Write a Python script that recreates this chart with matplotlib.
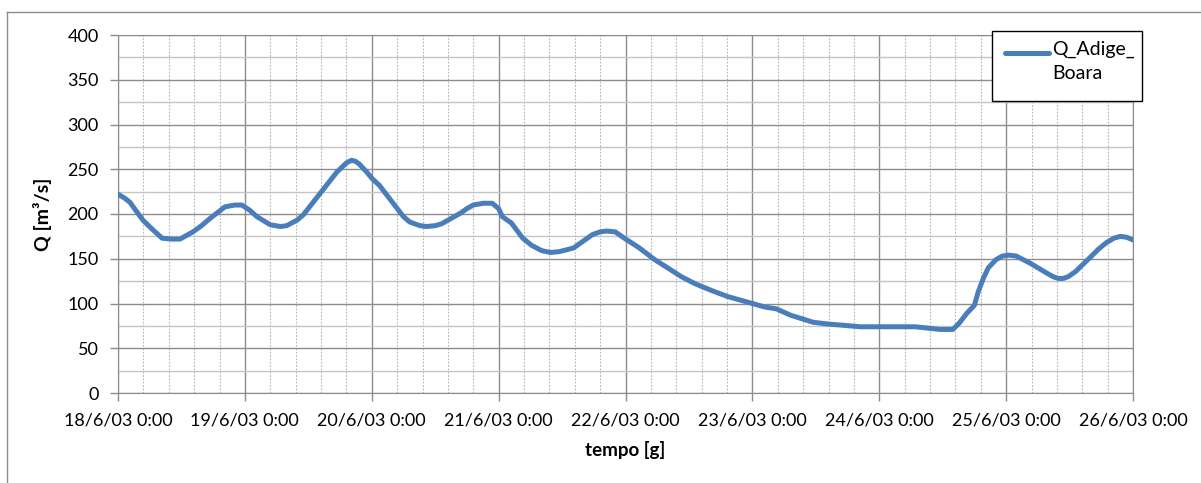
import matplotlib.pyplot as plt
from matplotlib.lines import Line2D
from matplotlib.patches import Rectangle
from matplotlib.ticker import MultipleLocator

plt.rcParams['font.family'] = ['Lato', 'DejaVu Sans']

# time in days from 18/6/03 0:00, discharge in m3/s
giorni = [0, 0.05, 0.095, 0.14, 0.197, 0.27, 0.347, 0.42, 0.489, 0.59,
          0.65, 0.725, 0.843, 0.92, 0.977, 1.04, 1.095, 1.2, 1.28, 1.33,
          1.41, 1.46, 1.51, 1.615, 1.726, 1.8, 1.84, 1.87, 1.9, 1.96,
          2.0, 2.06, 2.12, 2.25, 2.3, 2.38, 2.43, 2.5, 2.55, 2.6,
          2.7, 2.75, 2.8, 2.88, 2.95, 3.0, 3.03, 3.1, 3.19, 3.26,
          3.34, 3.41, 3.48, 3.59, 3.66, 3.74, 3.8, 3.85, 3.92, 3.98,
          4.11, 4.23, 4.33, 4.44, 4.55, 4.67, 4.8, 4.9, 5.0, 5.1,
          5.19, 5.3, 5.48, 5.6, 5.69, 5.85, 6.0, 6.2, 6.28, 6.35,
          6.48, 6.58, 6.63, 6.69, 6.75, 6.78, 6.82, 6.86, 6.92, 6.97,
          7.02, 7.08, 7.19, 7.32, 7.37, 7.41, 7.45, 7.49, 7.55, 7.60,
          7.68, 7.73, 7.79, 7.85, 7.90, 7.95, 8.0]
q_boara = [222, 218, 213, 204, 193, 183, 173, 172, 172, 180,
           186, 195, 208, 210, 210, 204, 197, 188, 186, 187,
           193, 199, 208, 227, 247, 257, 260, 259, 256, 247,
           240, 232, 221, 197, 191, 187, 186, 187, 189, 193,
           201, 206, 210, 212, 212, 206, 197, 190, 173, 165,
           159, 157, 158, 162, 169, 177, 180, 181, 180, 174,
           162, 149, 140, 130, 122, 115, 108, 104, 100, 96,
           94, 87, 79, 77, 76, 74, 74, 74, 74, 73,
           71, 71, 78, 89, 98, 113, 128, 140, 149, 153,
           154, 153, 145, 134, 130, 128, 128, 130, 136, 143,
           154, 161, 168, 173, 175, 174, 171]
etichette = ['18/6/03 0:00', '19/6/03 0:00', '20/6/03 0:00', '21/6/03 0:00',
             '22/6/03 0:00', '23/6/03 0:00', '24/6/03 0:00', '25/6/03 0:00',
             '26/6/03 0:00']
serie = 'Q_Adige_\nBoara'

blu = '#4a7ebb'
W, H = 1201, 483

fig = plt.figure(figsize=(W / 100, H / 100), dpi=100)
ax = fig.add_axes([118/W, 1 - 393/H, (1133-118)/W, (393-35)/H])

ax.plot(giorni, q_boara, color=blu, lw=3.6, solid_joinstyle='round',
        solid_capstyle='round', zorder=3)

ax.set_xlim(0, 8)
ax.set_ylim(0, 400)
ax.set_xticks(range(len(etichette)))
ax.set_xticklabels(etichette)
ax.xaxis.set_minor_locator(MultipleLocator(0.2))
ax.yaxis.set_major_locator(MultipleLocator(50))
ax.yaxis.set_minor_locator(MultipleLocator(25))

ax.grid(which='major', axis='both', color='#8c8c8c', lw=1.0)
ax.grid(which='minor', axis='y', color='#c4c4c4', lw=1.0)
ax.grid(which='minor', axis='x', color='#b4b4b4', lw=0.8, ls=(0, (1.5, 1.5)))
ax.set_axisbelow(True)

ax.tick_params(which='major', direction='out', length=6, width=1,
               color='#8c8c8c', labelsize=13, pad=8)
ax.tick_params(which='minor', length=0)
for s in ax.spines.values():
    s.set_color('#8c8c8c')

ax.set_xlabel('tempo [g]', fontsize=13.5, fontweight='bold', labelpad=9)
ax.set_ylabel('Q [m³/s]', fontsize=14, fontweight='bold', labelpad=11)

# legend box drawn like the spreadsheet one
fig.add_artist(Rectangle((992/W, 1 - 101/H), 150/W, 70/H, fill=True,
                         facecolor='white', edgecolor='black', lw=1,
                         transform=fig.transFigure, zorder=5))
fig.add_artist(Line2D([1005/W, 1049/W], [1 - 53/H, 1 - 53/H], color=blu,
                      lw=3.6, solid_capstyle='round',
                      transform=fig.transFigure, zorder=6))
fig.text(1052/W, 1 - 41/H, serie, fontsize=14, va='top', ha='left',
         linespacing=1.45, zorder=6, transform=fig.transFigure)

# outer chart frame
fig.add_artist(Line2D([7/W, 7/W], [0, 1 - 12/H], color='#8c8c8c',
                      lw=1, transform=fig.transFigure))
fig.add_artist(Line2D([7/W, 1], [1 - 12/H, 1 - 12/H], color='#8c8c8c',
                      lw=1, transform=fig.transFigure))

fig.savefig('out.png', dpi=100)
